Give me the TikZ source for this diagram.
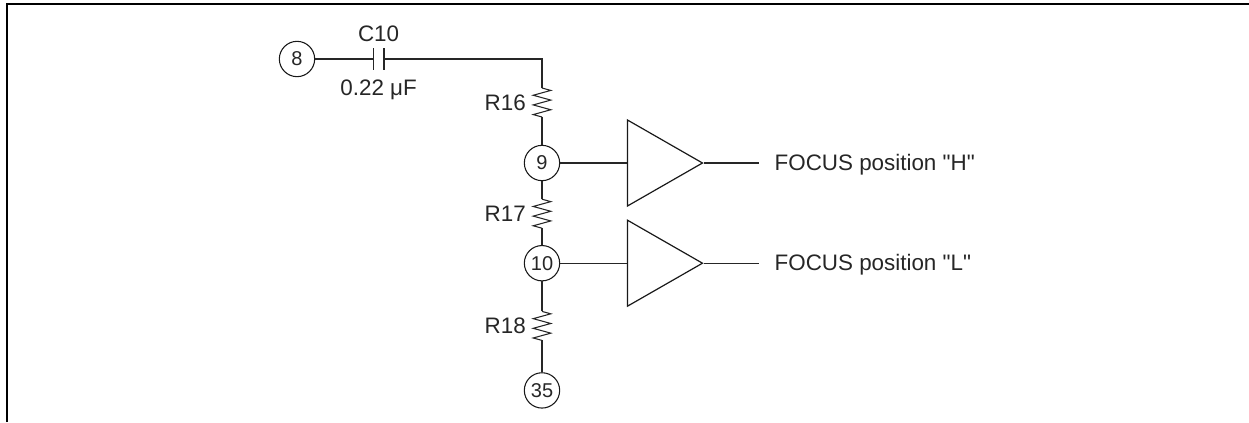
\documentclass[tikz,border=0pt]{standalone}
\usepackage{fontspec}
\setmainfont[Ligatures=TeXOff]{Liberation Sans}
\usetikzlibrary{positioning,shapes.geometric,decorations.pathmorphing}

\begin{document}
\begin{tikzpicture}[
    wire/.style={black!85, line width=0.8pt},
    pin/.style={draw=black!90, line width=0.8pt, circle, minimum size=26.5pt, inner sep=0pt, text=black!85, font=\fontsize{15}{17}\selectfont},
    amp/.style={draw=black!90, line width=0.9pt, isosceles triangle, isosceles triangle stretches, minimum height=56.25pt, minimum width=64.5pt, inner sep=0pt},
    lbl/.style={inner sep=0pt, text=black!85, font=\fontsize{16.8}{20}\selectfont},
    zig/.style={wire, decorate, decoration={zigzag, segment length=7.25pt, amplitude=6.6pt}}
  ]
    \useasboundingbox (0,0) rectangle (936.75pt,-316.5pt);
    \draw [line width=1.6pt] (5.25pt,-316.5pt) -- (5.25pt,-3pt) -- (936.75pt,-3pt);

    \node [pin] (pin8) at (222.75pt,-44.25pt) {8};
    \node [minimum width=7.7pt, minimum height=15.75pt, inner sep=0pt, right=43.5pt of pin8] (c10) {};
    \draw [wire, line width=1pt] (c10.north west) -- (c10.south west);
    \draw [wire, line width=1pt] (c10.north east) -- (c10.south east);
    \node [lbl, above=5pt of c10] (c10name) {C10};
    \node [lbl, below=7.5pt of c10] (c10val) {0.22 μF};

    \coordinate (r16a) at (406.5pt,-66pt);
    \coordinate [below=21.75pt of r16a] (r16b);
    \node [pin, below=34.5pt of r16b, anchor=center] (pin9) {9};
    \coordinate [below=13.5pt of pin9] (r17a);
    \coordinate [below=21.75pt of r17a] (r17b);
    \node [pin, below=26.25pt of r17b, anchor=center] (pin10) {10};
    \coordinate [below=22.5pt of pin10] (r18a);
    \coordinate [below=21.75pt of r18a] (r18b);
    \node [pin, below=37.5pt of r18b, anchor=center] (pin35) {35};

    \node [lbl, left=12pt of r16a, yshift=-10.9pt] (r16name) {R16};
    \node [lbl, left=12pt of r17a, yshift=-10.9pt] (r17name) {R17};
    \node [lbl, left=12pt of r18a, yshift=-10.9pt] (r18name) {R18};

    \node [amp, right=50pt of pin9] (amp1) {};
    \node [amp, right=50pt of pin10] (amp2) {};
    \coordinate [right=41.25pt of amp1.apex] (out1);
    \coordinate [right=41.25pt of amp2.apex] (out2);
    \node [lbl, right=11.5pt of out1, yshift=-1.5pt] (focush) {FOCUS position "H"};
    \node [lbl, right=11.5pt of out2, yshift=-1.5pt] (focusl) {FOCUS position "L"};

    \draw [wire] (pin8) -- (c10.west);
    \draw [wire] (c10.east) -| (r16a);
    \draw [zig] (r16a) -- (r16b);
    \draw [wire] (r16b) -- (pin9);
    \draw [wire] (pin9) -- (r17a);
    \draw [zig] (r17a) -- (r17b);
    \draw [wire] (r17b) -- (pin10);
    \draw [wire] (pin10) -- (r18a);
    \draw [zig] (r18a) -- (r18b);
    \draw [wire] (r18b) -- (pin35);

    \draw [wire] (pin9) -- (amp1.lower side);
    \draw [wire] (pin10) -- (amp2.lower side);
    \draw [wire] (amp1.apex) -- (out1);
    \draw [wire] (amp2.apex) -- (out2);
\end{tikzpicture}
\end{document}
